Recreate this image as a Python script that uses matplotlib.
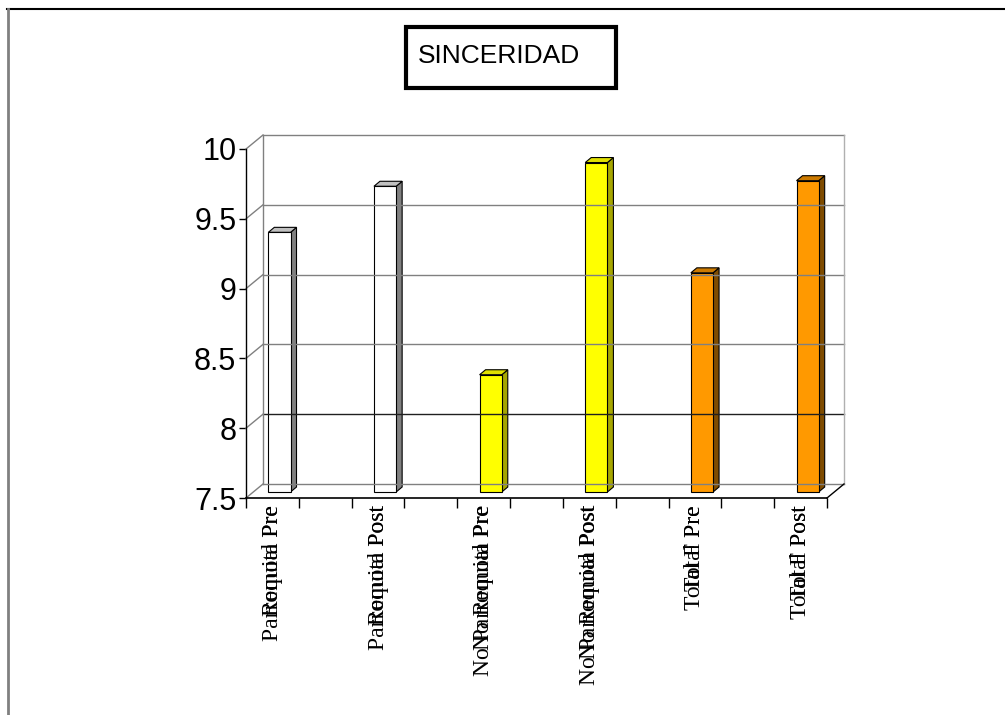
import matplotlib
matplotlib.use("Agg")
import matplotlib.pyplot as plt
from matplotlib.patches import Rectangle, Polygon
from matplotlib.lines import Line2D

# data
labels_a = ["Parroquial Pre", "Parroquial Post", "No Parroquial Pre", "No Parroquial Post", "Total F Pre", "Total F Post"]
labels_b = ["Remota Pre", "Remota Post", "No Remota Pre", "No Remota Post", "Total Pre", "Total Post"]
values = [9.36, 9.69, 8.34, 9.86, 9.07, 9.73]
slots = [0, 2, 4, 6, 8, 10]
front_col = ["#ffffff", "#ffffff", "#ffff00", "#ffff00", "#ff9900", "#ff9900"]
top_col = ["#c0c0c0", "#c0c0c0", "#e0e000", "#e0e000", "#cc7a00", "#cc7a00"]
side_col = ["#808080", "#808080", "#a6a600", "#a6a600", "#7f4c00", "#7f4c00"]
yticks = [7.5, 8, 8.5, 9, 9.5, 10]
ytick_labels = ["7.5", "8", "8.5", "9", "9.5", "10"]

W, H = 1005, 715
fig = plt.figure(figsize=(W / 100, H / 100), dpi=100)

# outer frame
fig.add_artist(Line2D([7 / W, 1], [1 - 9 / H, 1 - 9 / H], color="black", lw=1.5))
fig.add_artist(Line2D([7.5 / W, 7.5 / W], [1 - 9 / H, 0], color="#808080", lw=2))

# title box
fig.add_artist(Rectangle((406 / W, 1 - 88 / H), 210 / W, 61 / H, transform=fig.transFigure,
                         fill=False, ec="black", lw=3))
fig.text(499 / W, 1 - 56 / H, "SINCERIDAD", fontsize=19, family="Liberation Sans",
         ha="center", va="center")

ax = fig.add_axes([246 / W, (H - 498) / H, 581 / W, 349 / H])
ax.set_xlim(0, 11)
ax.set_ylim(7.5, 10)
for s in ax.spines.values():
    s.set_visible(False)

DX = 17 / 581 * 11
DY = 14 / 349 * 2.5
kw = dict(clip_on=False)

# back wall, grid and floor
for v in yticks:
    c = "#202020" if v == 8 else "#808080"
    ax.plot([DX, 11 + DX], [v + DY, v + DY], color=c, lw=1.0, **kw)
    ax.plot([0, DX], [v, v + DY], color="#808080", lw=1, **kw)
ax.plot([DX, DX], [7.5 + DY, 10 + DY], color="#808080", lw=1, **kw)
ax.plot([11 + DX, 11 + DX], [7.5 + DY, 10 + DY], color="#b0b0b0", lw=1, **kw)
ax.plot([11, 11 + DX], [7.5, 7.5 + DY], color="black", lw=1, **kw)
ax.plot([0, 0], [7.5, 10], color="black", lw=1, **kw)
ax.plot([0, 11], [7.5, 7.5], color="black", lw=1.2, **kw)

# bars
BDX, BDY = 7 / 52.8, 6 / 139.6
SDX, SDY = 6 / 52.8, 5 / 139.6
BW = 0.42
for i, v in enumerate(values):
    x0 = slots[i] + 0.5 - BW / 2 + BDX
    x1 = x0 + BW
    y0 = 7.5 + BDY
    y1 = v + BDY
    ax.add_patch(Polygon([(x1, y0), (x1 + SDX, y0 + SDY), (x1 + SDX, y1 + SDY), (x1, y1)],
                         fc=side_col[i], ec="black", lw=0.8, **kw))
    ax.add_patch(Polygon([(x0, y1), (x0 + SDX, y1 + SDY), (x1 + SDX, y1 + SDY), (x1, y1)],
                         fc=top_col[i], ec="black", lw=0.8, **kw))
    ax.add_patch(Rectangle((x0, y0), BW, y1 - y0, fc=front_col[i], ec="black", lw=0.8, **kw))

ax.set_yticks(yticks)
ax.set_yticklabels(ytick_labels, fontsize=22, family="Liberation Sans")
ax.set_xticks(range(12))
ax.set_xticklabels([])
ax.tick_params(axis="y", direction="out", length=5, width=1, pad=2)
ax.tick_params(axis="x", direction="out", length=7, width=1)

# category labels (two overlapping texts, as in the original)
for i in range(len(values)):
    for lab in (labels_a[i], labels_b[i]):
        ax.text(slots[i] + 0.5, -0.02, lab, transform=ax.get_xaxis_transform(),
                rotation=90, ha="center", va="top", fontsize=17, family="Liberation Serif")

fig.savefig("out.png", dpi=100)
